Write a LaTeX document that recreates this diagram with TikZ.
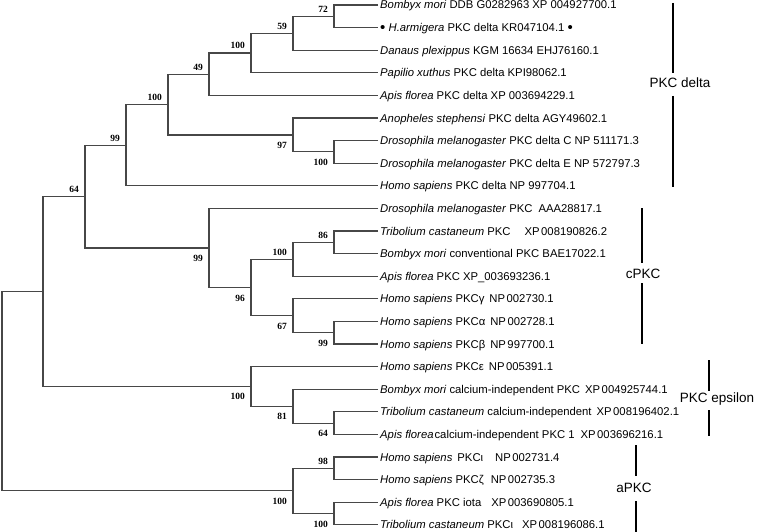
\documentclass[tikz,border=0pt]{standalone}
\usepackage{fontspec}
\setmainfont{Liberation Sans}
\newfontfamily\bsfont{Liberation Serif}
\newcommand{\bigdot}{{\fontsize{15}{15}\selectfont\raisebox{-0.6pt}{\textbullet}}}
\begin{document}
\begin{tikzpicture}[x=1pt,y=-1pt,
  br/.style={draw=black!72, line width=1.1pt},
  leaf/.style={anchor=base west, inner sep=0pt, font=\fontsize{11.3}{13}\selectfont},
  bs/.style={anchor=base east, inner sep=0pt, font=\bsfont\bfseries\fontsize{9.5}{11}\selectfont},
  clade/.style={inner sep=0pt, font=\fontsize{13.5}{16}\selectfont},
  cbar/.style={draw=black, line width=2pt}]
\useasboundingbox (0,0) rectangle (757,532);
% leaf tips
\foreach \i in {0,...,23} \coordinate (t\i) at (378, 5+22.6*\i);
% leaf labels
\node[leaf] (l0) at ([shift={(2,4)}]t0) {\textit{Bombyx mori} DDB G0282963 XP 004927700.1};
\node[leaf] (l1) at ([shift={(2,4)}]t1) {\bigdot\ \textit{H.armigera} PKC delta KR047104.1 \bigdot};
\node[leaf] (l2) at ([shift={(2,4)}]t2) {\textit{Danaus plexippus} KGM 16634 EHJ76160.1};
\node[leaf] (l3) at ([shift={(2,4)}]t3) {\textit{Papilio xuthus} PKC delta KPI98062.1};
\node[leaf] (l4) at ([shift={(2,4)}]t4) {\textit{Apis florea} PKC delta XP 003694229.1};
\node[leaf] (l5) at ([shift={(2,4)}]t5) {\textit{Anopheles stephensi} PKC delta AGY49602.1};
\node[leaf] (l6) at ([shift={(2,4)}]t6) {\textit{Drosophila melanogaster} PKC delta C NP 511171.3};
\node[leaf] (l7) at ([shift={(2,4)}]t7) {\textit{Drosophila melanogaster} PKC delta E NP 572797.3};
\node[leaf] (l8) at ([shift={(2,4)}]t8) {\textit{Homo sapiens} PKC delta NP 997704.1};
\node[leaf] (l9) at ([shift={(2,4)}]t9) {\textit{Drosophila melanogaster} PKC\hspace{6pt}AAA28817.1};
\node[leaf] (l10) at ([shift={(2,4)}]t10) {\textit{Tribolium castaneum} PKC\hspace{14pt}XP\hspace{1.5pt}008190826.2};
\node[leaf] (l11) at ([shift={(2,4)}]t11) {\textit{Bombyx mori} conventional PKC BAE17022.1};
\node[leaf] (l12) at ([shift={(2,4)}]t12) {\textit{Apis florea} PKC XP\_003693236.1};
\node[leaf] (l13) at ([shift={(2,4)}]t13) {\textit{Homo sapiens} PKCγ\hspace{5pt}NP\hspace{1.5pt}002730.1};
\node[leaf] (l14) at ([shift={(2,4)}]t14) {\textit{Homo sapiens} PKCα\hspace{5pt}NP\hspace{1.5pt}002728.1};
\node[leaf] (l15) at ([shift={(2,4)}]t15) {\textit{Homo sapiens} PKCβ\hspace{5pt}NP\hspace{1.5pt}997700.1};
\node[leaf] (l16) at ([shift={(2,4)}]t16) {\textit{Homo sapiens} PKCε\hspace{5pt}NP\hspace{1.5pt}005391.1};
\node[leaf] (l17) at ([shift={(2,4)}]t17) {\textit{Bombyx mori} calcium-independent PKC\hspace{5pt}XP\hspace{1.5pt}004925744.1};
\node[leaf] (l18) at ([shift={(2,4)}]t18) {\textit{Tribolium castaneum} calcium-independent\hspace{5pt}XP\hspace{1.5pt}008196402.1};
\node[leaf] (l19) at ([shift={(2,4)}]t19) {\textit{Apis florea}\hspace{1pt}calcium-independent PKC 1\hspace{6pt}XP\hspace{1.5pt}003696216.1};
\node[leaf] (l20) at ([shift={(2,4)}]t20) {\textit{Homo sapiens}\hspace{5pt}PKCι\hspace{12pt}NP\hspace{1.5pt}002731.4};
\node[leaf] (l21) at ([shift={(2,4)}]t21) {\textit{Homo sapiens} PKCζ\hspace{7pt}NP\hspace{1.5pt}002735.3};
\node[leaf] (l22) at ([shift={(2,4)}]t22) {\textit{Apis florea} PKC iota\hspace{10pt}XP\hspace{1.5pt}003690805.1};
\node[leaf] (l23) at ([shift={(2,4)}]t23) {\textit{Tribolium castaneum} PKCι\hspace{9pt}XP\hspace{1.5pt}008196086.1};
% internal nodes
\coordinate (a72) at (334,16.3);
\coordinate (a59) at (293,33.25);
\coordinate (a100a) at (251,53.0);
\coordinate (a49) at (209,74.2);
\coordinate (aD100) at (334,151.9);
\coordinate (a97) at (293,134.95);
\coordinate (a100b) at (168,104.6);
\coordinate (a99a) at (126,145.2);
\coordinate (a86) at (334,242.3);
\coordinate (a100c) at (293,259.25);
\coordinate (a99c) at (334,332.7);
\coordinate (a67) at (293,315.75);
\coordinate (a96) at (251,287.5);
\coordinate (a99b) at (209,247.95);
\coordinate (a64) at (85,196.6);
\coordinate (a64e) at (334,423.1);
\coordinate (a81) at (293,406.15);
\coordinate (a100e) at (251,386.4);
\coordinate (nA) at (43,291.5);
\coordinate (a98) at (334,468.3);
\coordinate (a100g) at (334,513.5);
\coordinate (a100f) at (293,490.9);
\coordinate (root) at (2,391.2);
% branches
\draw[br] (t0) -| (a72) |- (t1);
\draw[br] (a72) -| (a59) |- (t2);
\draw[br] (a59) -| (a100a) |- (t3);
\draw[br] (a100a) -| (a49) |- (t4);
\draw[br] (t6) -| (aD100) |- (t7);
\draw[br] (t5) -| (a97) |- (aD100);
\draw[br] (a49) -| (a100b) |- (a97);
\draw[br] (a100b) -| (a99a) |- (t8);
\draw[br] (t10) -| (a86) |- (t11);
\draw[br] (a86) -| (a100c) |- (t12);
\draw[br] (t14) -| (a99c) |- (t15);
\draw[br] (t13) -| (a67) |- (a99c);
\draw[br] (a100c) -| (a96) |- (a67);
\draw[br] (t9) -| (a99b) |- (a96);
\draw[br] (a99a) -| (a64) |- (a99b);
\draw[br] (t18) -| (a64e) |- (t19);
\draw[br] (t17) -| (a81) |- (a64e);
\draw[br] (t16) -| (a100e) |- (a81);
\draw[br] (a64) -| (nA) |- (a100e);
\draw[br] (t20) -| (a98) |- (t21);
\draw[br] (t22) -| (a100g) |- (t23);
\draw[br] (a98) -| (a100f) |- (a100g);
\draw[br] (nA) -| (root) |- (a100f);
% bootstrap values (above)
\node[bs] (b72) at ([shift={(-6,-4)}]a72) {72};
\node[bs] (b59) at ([shift={(-6,-4)}]a59) {59};
\node[bs] (b100a) at ([shift={(-6,-4)}]a100a) {100};
\node[bs] (b49) at ([shift={(-6,-4)}]a49) {49};
\node[bs] (b100b) at ([shift={(-6,-4)}]a100b) {100};
\node[bs] (b99a) at ([shift={(-6,-4)}]a99a) {99};
\node[bs] (b64) at ([shift={(-6,-4)}]a64) {64};
\node[bs] (b86) at ([shift={(-6,-4)}]a86) {86};
\node[bs] (b100c) at ([shift={(-6,-4)}]a100c) {100};
\node[bs] (b98) at ([shift={(-6,-4)}]a98) {98};
% bootstrap values (below)
\node[bs] (b97) at ([shift={(-6,13.5)}]a97) {97};
\node[bs] (bD100) at ([shift={(-6,13.5)}]aD100) {100};
\node[bs] (b96) at ([shift={(-6,13.5)}]a96) {96};
\node[bs] (b67) at ([shift={(-6,13.5)}]a67) {67};
\node[bs] (b99c) at ([shift={(-6,13.5)}]a99c) {99};
\node[bs] (b99b) at ([shift={(-6,13.5)}]a99b) {99};
\node[bs] (b100e) at ([shift={(-6,13.5)}]a100e) {100};
\node[bs] (b81) at ([shift={(-6,13.5)}]a81) {81};
\node[bs] (b64e) at ([shift={(-6,13.5)}]a64e) {64};
\node[bs] (b100f) at ([shift={(-6,13.5)}]a100f) {100};
\node[bs] (b100g) at ([shift={(-6,13.5)}]a100g) {100};
% clade labels and bars
\node[clade] (cdelta) at (680,83) {PKC delta};
\draw[cbar] (673,3) -- (673,73) (673,96) -- (673,187);
\node[clade] (cc) at (643,274) {cPKC};
\draw[cbar] (642,208) -- (642,263) (642,283) -- (642,344);
\node[clade] (ceps) at (717,399) {PKC epsilon};
\draw[cbar] (709,360) -- (709,391) (709,410) -- (709,436);
\node[clade] (ca) at (634,488) {aPKC};
\draw[cbar] (636,445) -- (636,476) (636,501) -- (636,532);
\end{tikzpicture}
\end{document}
